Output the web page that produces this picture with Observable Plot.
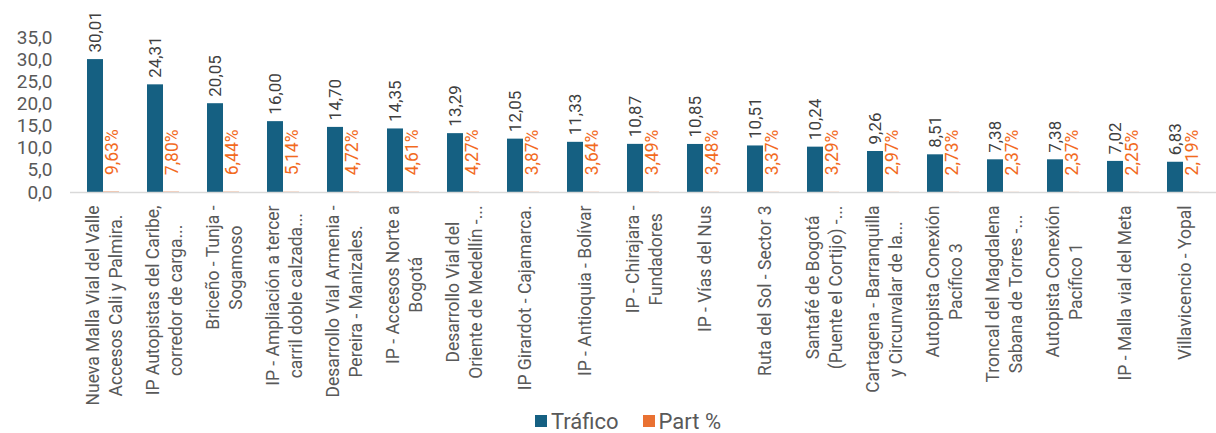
<!DOCTYPE html>
<html><head><meta charset="utf-8">
<script src="https://cdn.jsdelivr.net/npm/d3@7"></script>
<script src="https://cdn.jsdelivr.net/npm/@observablehq/plot@0.6"></script>
<style>
body{margin:0;background:#fff;font-family:Roboto, "Liberation Sans", sans-serif;}
#legend{height:28px;display:flex;align-items:center;justify-content:center;padding-left:40px;box-sizing:border-box;font-size:22px;color:#595959;padding-top:4px}
#legend .item{display:flex;align-items:center;margin:0 12px}
#legend .sw{width:12px;height:12px;margin-right:4px;display:inline-block}
</style></head><body><div id="chart"></div>
<script>
const categories = [
  "Nueva Malla Vial del Valle\nAccesos Cali y Palmira.",
  "IP Autopistas del Caribe,\ncorredor de carga...",
  "Briceño - Tunja -\nSogamoso",
  "IP - Ampliación a tercer\ncarril doble calzada...",
  "Desarrollo Vial Armenia -\nPereira - Manizales.",
  "IP - Accesos Norte a\nBogotá",
  "Desarrollo Vial del\nOriente de Medellín -...",
  "IP Girardot - Cajamarca.",
  "IP - Antioquia - Bolívar",
  "IP - Chirajara -\nFundadores",
  "IP - Vías del Nus",
  "Ruta del Sol - Sector 3",
  "Santafé de Bogotá\n(Puente el Cortijo) -...",
  "Cartagena - Barranquilla\ny Circunvalar de la...",
  "Autopista Conexión\nPacífico 3",
  "Troncal del Magdalena\nSabana de Torres -...",
  "Autopista Conexión\nPacífico 1",
  "IP - Malla vial del Meta",
  "Villavicencio - Yopal"
];
const trafico = [30.01, 24.31, 20.05, 16.00, 14.70, 14.35, 13.29, 12.05, 11.33, 10.87, 10.85, 10.51, 10.24, 9.26, 8.51, 7.38, 7.38, 7.02, 6.83];
const partPct = [9.63, 7.80, 6.44, 5.14, 4.72, 4.61, 4.27, 3.87, 3.64, 3.49, 3.48, 3.37, 3.29, 2.97, 2.73, 2.37, 2.37, 2.25, 2.19];
const seriesNames = ["Tráfico", "Part %"];
const seriesColors = ["#156082", "#E97132"];
const yTicks = [0, 5, 10, 15, 20, 25, 30, 35];

const loc = d3.formatLocale({decimal: ",", thousands: ".", grouping: [3], currency: ["$", ""]});
const f1 = loc.format(".1f"), f2 = loc.format(".2f");
const data = categories.map((c, i) => ({c, t: trafico[i], p: partPct[i]}));

const chart = Plot.plot({
  width: 1216, height: 405,
  marginLeft: 70, marginRight: 0, marginTop: 37, marginBottom: 213,
  style: {fontFamily: "Roboto, 'Liberation Sans', sans-serif", background: "white"},
  x: {domain: categories, paddingInner: 0.47, paddingOuter: 0.235, axis: null},
  y: {domain: [0, 35], axis: null},
  marks: [
    Plot.axisY(yTicks, {label: null, tickSize: 0, tickPadding: 18, tickFormat: f1, fontSize: 19, fill: "#595959"}),
    Plot.barY(data, {x: "c", y: "t", fill: seriesColors[0], insetRight: 16}),
    Plot.barY(data, {x: "c", y: d => d.p / 100, fill: seriesColors[1], insetLeft: 16}),
    Plot.ruleY([0], {stroke: "#d9d9d9", strokeWidth: 1.5}),
    Plot.axisX({label: null, tickSize: 0, tickPadding: 13, tickRotate: -90, textAnchor: "end", lineAnchor: "middle", lineHeight: 1.3, fontSize: 17.5, fill: "#595959", tickFormat: d => d}),
    Plot.text(data, {x: "c", y: "t", text: d => f2(d.t), rotate: -90, textAnchor: "start", dx: -8, dy: -7, fontSize: 17, fill: "#404040"}),
    Plot.text(data, {x: "c", y: d => d.p / 100, text: d => f2(d.p) + "%", rotate: -90, textAnchor: "start", dx: 9, dy: -17, fontSize: 17.5, fill: "#F26B1F"})
  ]
});
const host = document.getElementById("chart");
host.appendChild(chart);

// center multi-line tick labels within their block (Excel style)
chart.querySelectorAll('g[aria-label="x-axis tick label"] text').forEach(t => {
  const spans = Array.from(t.querySelectorAll("tspan"));
  if (spans.length < 2) return;
  const lens = spans.map(s => s.getComputedTextLength());
  const max = Math.max(...lens);
  spans.forEach((s, i) => s.setAttribute("x", -(max - lens[i]) / 2));
});

const legend = document.createElement("div");
legend.id = "legend";
seriesNames.forEach((n, i) => {
  const it = document.createElement("span"); it.className = "item";
  const sw = document.createElement("span"); sw.className = "sw"; sw.style.background = seriesColors[i];
  it.appendChild(sw); it.appendChild(document.createTextNode(n));
  legend.appendChild(it);
});
document.body.appendChild(legend);
</script></body></html>
